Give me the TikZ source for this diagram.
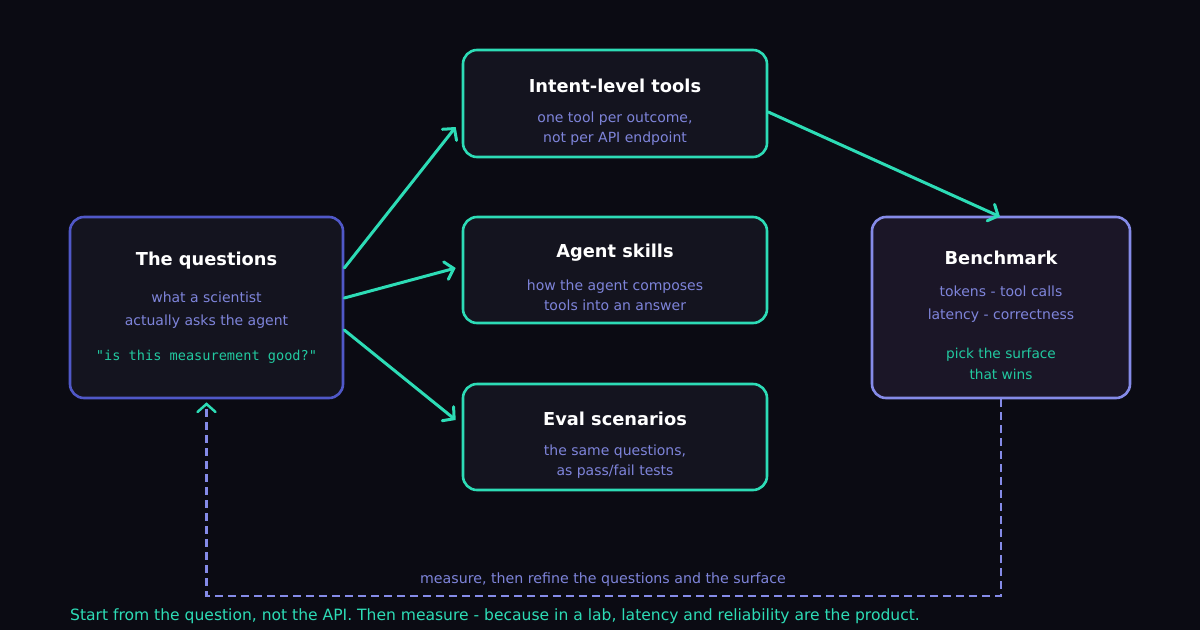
\documentclass[tikz,border=0pt]{standalone}
\usepackage{fontspec}
\setmainfont{DejaVu Sans}
\setmonofont{DejaVu Sans Mono}
\usetikzlibrary{arrows.meta,calc}

\definecolor{bgcol}{HTML}{0B0B13}
\definecolor{boxfill}{HTML}{14141F}
\definecolor{benchfill}{HTML}{1B1627}
\definecolor{accent}{HTML}{2DDCB6}
\definecolor{monoteal}{HTML}{22C9A0}
\definecolor{indigoedge}{HTML}{5058C8}
\definecolor{lav}{HTML}{858BE8}
\definecolor{subtxt}{HTML}{7E84DA}

\tikzset{
  box/.style={rounded corners=14pt, line width=2.6pt, fill=boxfill, inner sep=0pt},
  title/.style={font=\bfseries\fontsize{17.8}{18}\selectfont, text=white, inner sep=0pt},
  sub/.style={font=\fontsize{14}{20.5}\selectfont, text=subtxt, align=center, inner sep=0pt},
  flow/.style={draw=accent, line width=3pt, line cap=round,
    -{Straight Barb[length=8pt,width=18pt,line cap=round]}},
  feedback/.style={draw=lav, line width=2.5pt, dash pattern=on 8pt off 5pt,
    -{Straight Barb[length=8pt,width=18pt,color=accent,line cap=round]}},
}

\begin{document}
\begin{tikzpicture}[x=1pt,y=-1pt]
  \fill[bgcol] (0,0) rectangle (1200,630);
  \useasboundingbox (0,0) rectangle (1200,630);

  % boxes
  \node[box, draw=indigoedge, minimum width=273pt, minimum height=181pt] (q) at (206.5,307.5) {};
  \node[box, draw=accent, minimum width=304pt, minimum height=107pt] (intent) at (615,103.5) {};
  \node[box, draw=accent, minimum width=304pt, minimum height=106pt] (skills) at (615,270) {};
  \node[box, draw=accent, minimum width=304pt, minimum height=106pt] (eval) at (615,437) {};
  \node[box, draw=lav, fill=benchfill, minimum width=258pt, minimum height=181pt] (bench) at (1001,307.5) {};

  % the questions
  \node[title] (qT) at (206.5,261) {The questions};
  \node[sub, font=\fontsize{14}{23}\selectfont] (qS) at (206.5,310.5) {what a scientist\\actually asks the agent};
  \node[inner sep=0pt, text=monoteal, font=\ttfamily\fontsize{13.6}{13}\selectfont] (qM) at (206.5,357) {"is this measurement good?"};

  % intent-level tools
  \node[title] (intentT) at (615,86) {Intent-level tools};
  \node[sub] (intentS) at (615,128.5) {one tool per outcome,\\not per API endpoint};

  % agent skills
  \node[title] (skillsT) at (615,253) {Agent skills};
  \node[sub] (skillsS) at (615,295.5) {how the agent composes\\tools into an answer};

  % eval scenarios
  \node[title] (evalT) at (615,419) {Eval scenarios};
  \node[sub] (evalS) at (615,461.5) {the same questions,\\as pass/fail tests};

  % benchmark
  \node[title] (benchT) at (1001,258) {Benchmark};
  \node[sub, font=\fontsize{14}{23}\selectfont] (benchS) at (1001,304.5) {tokens - tool calls\\latency - correctness};
  \node[sub, text=monoteal, font=\fontsize{13.7}{21}\selectfont] (benchW) at (1001,363.5) {pick the surface\\that wins};

  % connectors
  \draw[flow] ($(q.east)+(0,-39.5)$) -- ($(intent.west)+(-6,23.5)$);
  \draw[flow] ($(q.east)+(0,-9.5)$) -- ($(skills.west)+(-6,-2)$);
  \draw[flow] ($(q.east)+(0,22.5)$) -- ($(eval.west)+(-6,-17)$);
  \draw[flow] ($(intent.east)+(0,8.5)$) -- ($(bench.north)+(-1,1)$);

  % feedback loop
  \coordinate (loopcorner) at ($(bench.south)+(0,196.5)$);
  \draw[feedback] (bench.south) -- (loopcorner) -| ($(q.south)+(0,3)$);
  \node[inner sep=0pt, text=subtxt, font=\fontsize{14.2}{14}\selectfont] (loopT) at (603,580) {measure, then refine the questions and the surface};

  % footer
  \node[inner sep=0pt, anchor=west, text=accent, font=\fontsize{15.55}{15}\selectfont] (footer) at (70,616)
    {Start from the question, not the API. Then measure - because in a lab, latency and reliability are the product.};
\end{tikzpicture}
\end{document}
